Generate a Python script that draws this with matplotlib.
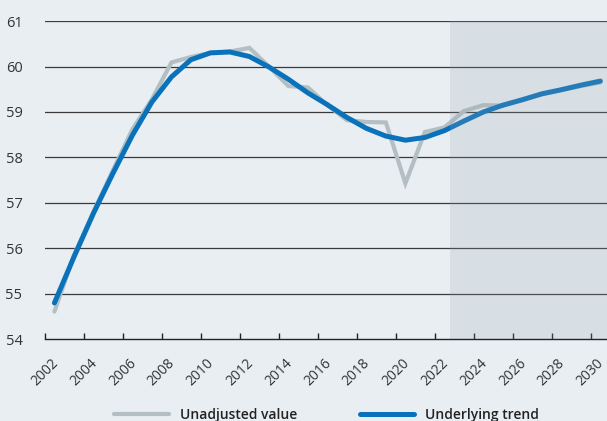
import numpy as np
import matplotlib.pyplot as plt

# annual values, plotted at mid-year
years = np.arange(2002, 2031) + 0.5
unadjusted = [54.61, 55.85, 56.80, 57.72, 58.62, 59.28, 60.09, 60.21, 60.30, 60.33,
              60.41, 60.00, 59.57, 59.54, 59.15, 58.82, 58.78, 58.77, 57.43, 58.56,
              58.66, 59.02, 59.15, 59.14, 59.26, 59.39, 59.48, 59.57, 59.65]
trend = [54.80, 55.81, 56.77, 57.65, 58.49, 59.22, 59.77, 60.15, 60.30, 60.32,
         60.22, 59.99, 59.72, 59.42, 59.16, 58.88, 58.64, 58.47, 58.38, 58.44,
         58.59, 58.80, 59.00, 59.15, 59.27, 59.40, 59.49, 59.59, 59.68]
xticks = list(range(2002, 2031, 2))
yticks = list(range(54, 62))
forecast_start = 2022.78

bg = '#e9eef2'
plt.rcParams['font.family'] = ['Open Sans', 'DejaVu Sans']

fig = plt.figure(figsize=(6.07, 4.21), dpi=100, facecolor=bg)
ax = fig.add_axes([0.0736, 0.194, 0.9264, 0.756])
ax.set_facecolor(bg)

ax.plot(years, unadjusted, color='#b4bfc3', lw=3.0, solid_capstyle='round',
        solid_joinstyle='miter', label='Unadjusted value', zorder=3)
ax.plot(years, trend, color='#0a72ba', lw=3.6, solid_capstyle='round',
        label='Underlying trend', zorder=4)

# forecast period shading drawn over the lines
ax.axvspan(forecast_start, 2031, color='#8fa3b1', alpha=0.2, lw=0, zorder=5)

ax.set_xlim(2002, 2030.84)
ax.set_ylim(54, 61)
ax.set_xticks(xticks)
ax.set_yticks(yticks)
ax.set_xticklabels([str(x) for x in xticks], rotation=45, ha='center',
                   fontsize=10, color='#333333')
ax.set_yticklabels([str(y) for y in yticks], fontsize=10.5, color='#333333')

for y in yticks[1:]:
    ax.axhline(y, color='#3a3a3a', lw=0.9, zorder=2)

for side in ['top', 'right', 'left']:
    ax.spines[side].set_visible(False)
ax.spines['bottom'].set_color('#222222')
ax.spines['bottom'].set_linewidth(1.0)
ax.spines['bottom'].set_zorder(6)
ax.tick_params(axis='x', direction='in', length=4, width=1, color='#222222', pad=12)
ax.tick_params(axis='y', length=0, pad=16)

fig.legend(loc='lower center', bbox_to_anchor=(0.538, -0.032), ncol=2, frameon=False,
           handlelength=3.9, columnspacing=4.5, handletextpad=0.8,
           prop={'size': 10, 'weight': 'semibold'}, labelcolor='#222222')

fig.savefig('out.png', dpi=100, facecolor=bg)
